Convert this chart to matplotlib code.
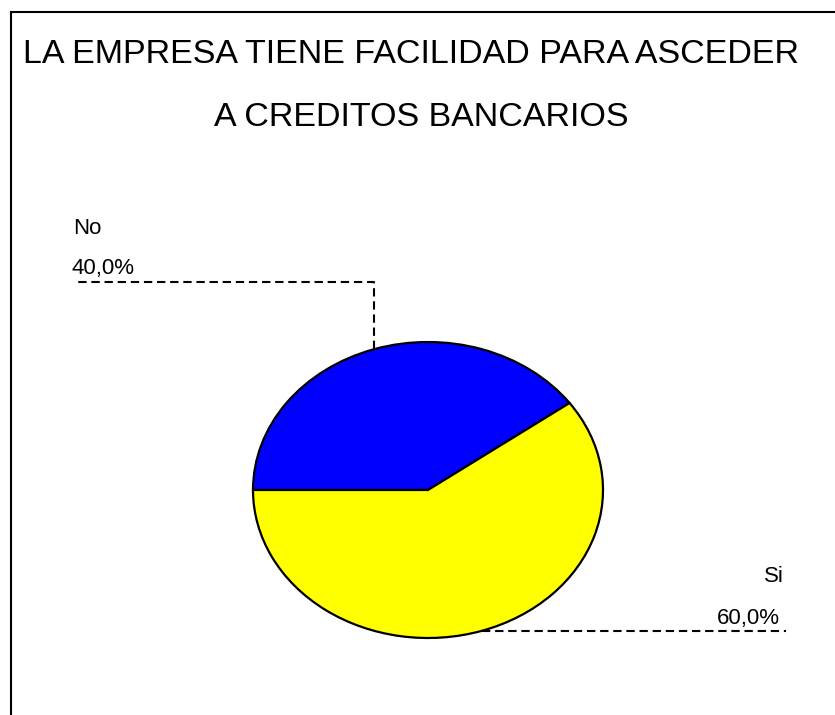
import numpy as np
import matplotlib
matplotlib.use("Agg")
import matplotlib.pyplot as plt
from matplotlib.lines import Line2D

# data
labels = ["No", "Si"]
values = [40.0, 60.0]
pct_text = ["40,0%", "60,0%"]
colors = ["#0000FF", "#FFFF00"]
title_lines = ["LA EMPRESA TIENE FACILIDAD PARA ASCEDER", "A CREDITOS BANCARIOS"]

W, H = 835, 715
fig = plt.figure(figsize=(W / 100, H / 100), dpi=100)

def fx(px):
    return px / W

def fy(py):
    return 1 - py / H

# outer frame (only left and top edges fall inside the image)
fig.add_artist(Line2D([fx(10.5), fx(10.5)], [fy(12), fy(H + 5)], color="black", lw=1.5))
fig.add_artist(Line2D([fx(10.5), fx(W + 5)], [fy(12), fy(12)], color="black", lw=1.5))

# title, two lines
fig.text(fx(411), fy(63), title_lines[0], ha="center", va="baseline",
         fontsize=24.5, family="Liberation Sans")
fig.text(fx(421), fy(126), title_lines[1], ha="center", va="baseline",
         fontsize=24.5, family="Liberation Sans")

# pie drawn as an ellipse: axes stretched to the pie's bounding box
cx, cy, rx, ry = 428, 490, 175, 148
ax = fig.add_axes([fx(cx - rx), fy(cy + ry), 2 * rx / W, 2 * ry / H])
wedges, _ = ax.pie(values, colors=colors, startangle=36, counterclock=True,
                   wedgeprops=dict(edgecolor="black", linewidth=1.6))
ax.set_aspect("auto")
ax.set_xlim(-1, 1)
ax.set_ylim(-1, 1)
ax.axis("off")

# leader lines and labels
ang = np.deg2rad(36 + 360 * np.cumsum([0] + values[:-1]) / 100 + 360 * np.array(values) / 200)
pts = [(cx + rx * np.cos(a), cy - ry * np.sin(a)) for a in ang]
dash = (0, (4, 2.3))

# "No" label, top-left
x0, y0 = pts[0]
fig.add_artist(Line2D([fx(x0), fx(x0), fx(75)], [fy(y0), fy(282), fy(282)],
                      color="black", lw=1.5, ls=dash))
fig.text(fx(73), fy(234), labels[0], ha="left", va="baseline", fontsize=16, family="Liberation Sans")
fig.text(fx(72), fy(274), pct_text[0], ha="left", va="baseline", fontsize=16, family="Liberation Sans")

# "Si" label, bottom-right
x1, y1 = pts[1]
fig.add_artist(Line2D([fx(x1), fx(786)], [fy(y1), fy(y1)],
                      color="black", lw=1.5, ls=dash))
fig.text(fx(784), fy(582), labels[1], ha="right", va="baseline", fontsize=16, family="Liberation Sans")
fig.text(fx(780), fy(624), pct_text[1], ha="right", va="baseline", fontsize=16, family="Liberation Sans")

fig.savefig("out.png", dpi=100, facecolor="white")
